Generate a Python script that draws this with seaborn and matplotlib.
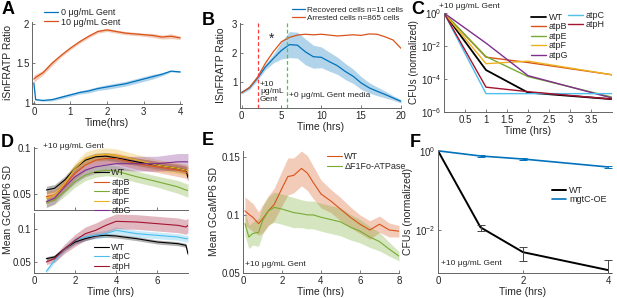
import numpy as np
import matplotlib
matplotlib.use("Agg")
import matplotlib.pyplot as plt
import seaborn as sns

# ---- panel A: iSnFRATP ratio, 0 vs 10 ug/mL gentamicin ----
a_time = [0, 0.05, 0.25, 0.5, 0.75, 1, 1.25, 1.5, 1.75, 2, 2.25, 2.5, 2.75, 3, 3.25, 3.5, 3.75, 4]
a_ctrl = [1.25, 1.04, 1.03, 1.04, 1.07, 1.1, 1.13, 1.15, 1.18, 1.2, 1.22, 1.24, 1.27, 1.3, 1.33, 1.36, 1.40, 1.39]
a_ctrl_err = [0.03, 0.01, 0.01, 0.015, 0.02, 0.02, 0.02, 0.025, 0.025, 0.03, 0.03, 0.03, 0.03, 0.03, 0.03, 0.02, 0.01, 0.01]
a_gent = [1.3, 1.32, 1.38, 1.5, 1.6, 1.69, 1.77, 1.84, 1.9, 1.92, 1.9, 1.88, 1.87, 1.86, 1.85, 1.83, 1.84, 1.82]
a_gent_err = [0.05, 0.04, 0.03, 0.03, 0.02, 0.02, 0.02, 0.02, 0.02, 0.02, 0.02, 0.02, 0.02, 0.02, 0.025, 0.025, 0.03, 0.02]

# ---- panel B: recovered vs arrested cells ----
b_time = list(range(0, 21))
b_rec = [0.64, 0.8, 1.14, 1.53, 1.82, 2.1, 2.3, 2.28, 2.05, 1.88, 1.86, 1.71, 1.57, 1.37, 1.2, 0.97, 0.8, 0.68, 0.57, 0.45, 0.33]
b_rec_err = [0.05, 0.06, 0.08, 0.1, 0.15, 0.3, 0.45, 0.45, 0.45, 0.4, 0.36, 0.33, 0.3, 0.28, 0.25, 0.22, 0.18, 0.15, 0.12, 0.08, 0.06]
b_arr = [0.62, 0.82, 1.17, 1.66, 2.06, 2.4, 2.55, 2.63, 2.66, 2.64, 2.66, 2.63, 2.6, 2.62, 2.64, 2.62, 2.67, 2.66, 2.57, 2.46, 2.17]
b_gent_on = 2.0
b_gent_off = 5.7

# ---- panel C: CFUs for ATP synthase mutants ----
c_time = [0, 1, 2, 4]
c_strains = ["WT", "atpB", "atpE", "atpF", "atpG", "atpC", "atpH"]
c_wt = [1, 3.5e-4, 1.5e-5, 6e-6]
c_atpB = [1, 2.1e-3, 1.0e-3, 1.8e-4]
c_atpE = [1, 2.3e-3, 1.4e-4, 8e-6]
c_atpF = [1, 8.5e-4, 1.2e-3, 1.8e-4]
c_atpG = [1, 1.5e-2, 1.6e-4, 7e-6]
c_atpC = [1, 1.3e-5, 1.3e-5, 1.3e-5]
c_atpH = [1, 3.2e-5, 1.7e-5, 6e-6]

# ---- panel D: GCaMP6 SD for mutants ----
d_time = [0.6, 1, 1.5, 2, 2.5, 3, 3.5, 4, 5, 6, 7, 7.4, 7.5]
d_wt = [0.0546, 0.0564, 0.0654, 0.0779, 0.0868, 0.0904, 0.0911, 0.0893, 0.085, 0.0814, 0.0779, 0.076, 0.068]
d_wt_err = [0.004, 0.004, 0.004, 0.004, 0.004, 0.004, 0.004, 0.004, 0.004, 0.004, 0.004, 0.004, 0.004]
d_atpB = [0.0475, 0.049, 0.06, 0.0725, 0.0814, 0.0868, 0.0886, 0.0886, 0.083, 0.0796, 0.076, 0.0743, 0.072]
d_atpB_err = [0.006, 0.006, 0.006, 0.006, 0.006, 0.006, 0.006, 0.006, 0.006, 0.006, 0.007, 0.007, 0.007]
d_atpE = [0.0404, 0.044, 0.053, 0.0636, 0.0707, 0.0743, 0.076, 0.075, 0.0689, 0.0636, 0.058, 0.0546, 0.054]
d_atpE_err = [0.005, 0.005, 0.005, 0.006, 0.006, 0.006, 0.006, 0.006, 0.006, 0.006, 0.007, 0.007, 0.007]
d_atpF = [0.0457, 0.049, 0.0618, 0.078, 0.0886, 0.092, 0.093, 0.092, 0.087, 0.0814, 0.078, 0.076, 0.075]
d_atpF_err = [0.005, 0.005, 0.006, 0.006, 0.007, 0.007, 0.007, 0.007, 0.006, 0.006, 0.006, 0.006, 0.006]
d_atpG = [0.042, 0.0457, 0.058, 0.0689, 0.076, 0.0796, 0.0814, 0.083, 0.083, 0.083, 0.085, 0.085, 0.085]
d_atpG_err = [0.006, 0.006, 0.006, 0.007, 0.007, 0.007, 0.007, 0.007, 0.008, 0.008, 0.009, 0.009, 0.009]
d2_wt = [0.055, 0.0575, 0.07, 0.08, 0.085, 0.089, 0.09, 0.089, 0.085, 0.08, 0.0775, 0.075, 0.062]
d2_wt_err = [0.003, 0.003, 0.003, 0.003, 0.003, 0.003, 0.003, 0.003, 0.003, 0.003, 0.003, 0.003, 0.003]
d2_atpC = [0.036, 0.0525, 0.07, 0.0825, 0.0875, 0.09, 0.0925, 0.0975, 0.0925, 0.09, 0.0875, 0.085, 0.085]
d2_atpC_err = [0.003, 0.004, 0.004, 0.005, 0.005, 0.005, 0.005, 0.005, 0.005, 0.005, 0.005, 0.005, 0.005]
d2_atpH = [0.05, 0.055, 0.07, 0.0825, 0.0925, 0.0975, 0.105, 0.111, 0.11, 0.1075, 0.105, 0.1025, 0.105]
d2_atpH_err = [0.004, 0.005, 0.007, 0.009, 0.01, 0.011, 0.011, 0.011, 0.011, 0.011, 0.011, 0.011, 0.011]

# ---- panel E: WT vs dF1Fo-ATPase ----
e_time = [0.1, 0.3, 0.5, 0.8, 1, 1.3, 1.6, 2, 2.3, 2.6, 3, 3.3, 3.6, 4, 4.5, 5, 5.5, 6, 6.5, 7, 7.5, 8]
e_wt = [0.1035, 0.1005, 0.098, 0.0925, 0.0965, 0.1035, 0.109, 0.123, 0.133, 0.134, 0.14, 0.136, 0.128, 0.118, 0.112, 0.105, 0.098, 0.092, 0.087, 0.092, 0.087, 0.086]
e_wt_err = [0.012, 0.012, 0.012, 0.01, 0.012, 0.013, 0.014, 0.015, 0.016, 0.015, 0.015, 0.015, 0.014, 0.012, 0.01, 0.01, 0.009, 0.008, 0.008, 0.007, 0.006, 0.005]
e_atp = [0.0925, 0.081, 0.084, 0.085, 0.095, 0.1035, 0.1065, 0.105, 0.1035, 0.102, 0.101, 0.1, 0.1, 0.098, 0.096, 0.094, 0.0895, 0.086, 0.081, 0.077, 0.0705, 0.0645]
e_atp_err = [0.01, 0.01, 0.01, 0.012, 0.012, 0.012, 0.013, 0.013, 0.013, 0.013, 0.012, 0.012, 0.012, 0.012, 0.012, 0.012, 0.011, 0.01, 0.009, 0.008, 0.006, 0.004]

# ---- panel F: CFUs WT vs mgtC-OE ----
f_time = [0, 1, 2, 4]
f_wt = [1, 1.15e-2, 2.7e-3, 9.5e-4]
f_wt_lo = [1, 9.5e-3, 1.65e-3, 8e-4]
f_wt_hi = [1, 1.35e-2, 3.6e-3, 1.7e-3]
f_mgtc = [1, 0.74, 0.62, 0.39]
f_mgtc_lo = [1, 0.71, 0.59, 0.36]
f_mgtc_hi = [1, 0.77, 0.65, 0.42]

BLUE = "#0072BD"
ORANGE = "#D95319"
YELLOW = "#EDB120"
PURPLE = "#7E2F8E"
GREEN = "#77AC30"
LBLUE = "#4DBEEE"
DRED = "#A2142F"
TXT = "#262626"

sns.set_theme(style="ticks")
plt.rcParams["font.family"] = ["Liberation Sans", "DejaVu Sans"]
plt.rcParams["axes.edgecolor"] = "#666666"
plt.rcParams["axes.linewidth"] = 0.7

W, H = 617, 298
fig = plt.figure(figsize=(W / 100, H / 100), dpi=100)


def box(left, top, right, bottom):
    # pixel box -> axes
    return fig.add_axes([left / W, 1 - bottom / H, (right - left) / W, (bottom - top) / H])


def style(ax):
    sns.despine(ax=ax)
    ax.tick_params(direction="in", length=2, width=0.6, labelsize=7, pad=2,
                   colors="#666666", labelcolor=TXT)
    ax.xaxis.label.set_color(TXT)
    ax.yaxis.label.set_color(TXT)


def band(ax, t, m, e, color, lw=0.9, label=None):
    t, m, e = np.array(t), np.array(m), np.array(e)
    ax.fill_between(t, m - e, m + e, color=color, alpha=0.3, lw=0)
    sns.lineplot(x=t, y=m, ax=ax, color=color, lw=lw, label=label, legend=False)


leg_kw = dict(frameon=False, fontsize=6.5, handlelength=1.6, handletextpad=0.3,
              labelspacing=0.05, borderpad=0, borderaxespad=0)

# A
ax = box(32, 22, 182, 104)
band(ax, a_time, a_ctrl, a_ctrl_err, BLUE, label="0 \u03bcg/mL Gent")
band(ax, a_time, a_gent, a_gent_err, ORANGE, label="10 \u03bcg/mL Gent")
ax.set_xlim(-0.05, 4.05)
ax.set_ylim(0.985, 2.02)
ax.set_xticks([0, 1, 2, 3, 4])
ax.set_yticks([1, 1.5, 2])
ax.set_yticklabels(["1", "1.5", "2"])
ax.set_xlabel("Time(hrs)", fontsize=7.5, labelpad=1)
ax.set_ylabel("iSnFRATP Ratio", fontsize=7.5, labelpad=2)
style(ax)
ax.legend(loc="upper left", bbox_to_anchor=(0.08, 1.17), **leg_kw)

# B
ax = box(240, 23, 401, 108)
band(ax, b_time, b_rec, b_rec_err, BLUE, label="Recovered cells n=11 cells")
sns.lineplot(x=b_time, y=b_arr, ax=ax, color=ORANGE, lw=0.9,
             label="Arrested cells n=865 cells", legend=False)
ax.axvline(b_gent_on, color="#FF3B3B", ls=(0, (3, 2)), lw=0.9)
ax.axvline(b_gent_off, color="#3BD13B", ls=(0, (3, 2)), lw=0.9)
ax.text(3.7, 2.5, "*", fontsize=10, ha="center", va="center", color=TXT)
ax.text(2.3, 1.05, "+10\n\u03bcg/mL\nGent", fontsize=6, ha="left", va="top",
        color=TXT, linespacing=1.1)
ax.text(6.0, 0.52, "+0 \u03bcg/mL Gent media", fontsize=6, ha="left", va="center", color=TXT)
ax.set_xlim(-0.2, 20)
ax.set_ylim(0.1, 3.05)
ax.set_xticks([0, 5, 10, 15, 20])
ax.set_yticks([1, 2, 3])
ax.set_xlabel("Time (hrs)", fontsize=7.5, labelpad=1)
ax.set_ylabel("ISnFRATP Ratio", fontsize=7.5, labelpad=4)
style(ax)
b_leg = dict(leg_kw, fontsize=5.9)
ax.legend(loc="upper left", bbox_to_anchor=(0.32, 1.2), **b_leg)

# C
ax = box(444, 13, 612, 112)
ax.set_yscale("log")
c_series = [c_wt, c_atpB, c_atpE, c_atpF, c_atpG, c_atpC, c_atpH]
c_colors = ["black", ORANGE, GREEN, YELLOW, PURPLE, LBLUE, DRED]
for name, vals, col in zip(c_strains, c_series, c_colors):
    sns.lineplot(x=c_time, y=vals, ax=ax, color=col, lw=1.3 if name == "WT" else 1.0,
                 label=name, legend=False)
ax.set_xlim(0, 4)
ax.set_ylim(1e-6, 1)
ax.set_xticks([0.5, 1, 1.5, 2, 2.5, 3, 3.5])
ax.set_xticklabels(["0.5", "1", "1.5", "2", "2.5", "3", "3.5"])
ax.set_yticks([1e-6, 1e-4, 1e-2, 1])
ax.yaxis.set_minor_locator(matplotlib.ticker.NullLocator())
ax.set_xlabel("Time (hrs)", fontsize=7.5, labelpad=1)
ax.set_ylabel("CFUs (normalized)", fontsize=7.2, labelpad=1)
ax.text(-0.03, 1.07, "+10 \u03bcg/mL Gent", transform=ax.transAxes, fontsize=6,
        ha="left", va="center", color=TXT)
style(ax)
h, l = ax.get_legend_handles_labels()
leg1 = ax.legend(h[:5], l[:5], loc="upper left", bbox_to_anchor=(0.52, 1.0), **leg_kw)
ax.add_artist(leg1)
ax.legend(h[5:], l[5:], loc="upper left", bbox_to_anchor=(0.74, 1.02), **leg_kw)

# D top
ax = box(34, 147, 188, 210)
for vals, err, col, name in [(d_wt, d_wt_err, "black", "WT"), (d_atpB, d_atpB_err, ORANGE, "atpB"),
                             (d_atpE, d_atpE_err, GREEN, "atpE"), (d_atpF, d_atpF_err, YELLOW, "atpF"),
                             (d_atpG, d_atpG_err, PURPLE, "atpG")]:
    band(ax, d_time, vals, err, col, lw=0.8, label=name)
ax.set_xlim(0, 7.5)
ax.set_ylim(0.033, 0.101)
ax.set_xticks([0, 2, 4, 6])
ax.set_xticklabels([])
ax.set_yticks([0.05, 0.1])
ax.set_yticklabels(["0.05", "0.1"])
ax.text(0.06, 1.0, "+10 \u03bcg/mL Gent", transform=ax.transAxes, fontsize=6,
        ha="left", va="center", color=TXT)
style(ax)
ax.legend(loc="upper left", bbox_to_anchor=(0.39, 0.66), **leg_kw)

# D bottom
ax = box(34, 213, 188, 273)
for vals, err, col, name in [(d2_wt, d2_wt_err, "black", "WT"), (d2_atpC, d2_atpC_err, LBLUE, "atpC"),
                             (d2_atpH, d2_atpH_err, DRED, "atpH")]:
    band(ax, d_time, vals, err, col, lw=0.8, label=name)
ax.set_xlim(0, 7.5)
ax.set_ylim(0.0335, 0.1235)
ax.set_xticks([0, 2, 4, 6])
ax.set_yticks([0.05, 0.1])
ax.set_yticklabels(["0.05", "0.1"])
ax.set_xlabel("Time (hrs)", fontsize=7.5, labelpad=1)
style(ax)
ax.legend(loc="upper left", bbox_to_anchor=(0.39, 0.5), **leg_kw)
fig.text(8 / W, 1 - 210 / H, "Mean GCaMP6 SD", rotation=90, fontsize=7.5,
         ha="center", va="center", color=TXT)

# E
ax = box(243, 151, 399, 273)
band(ax, e_time, e_wt, e_wt_err, ORANGE, lw=0.8, label="WT")
band(ax, e_time, e_atp, e_atp_err, GREEN, lw=0.8, label="\u0394F1Fo-ATPase")
ax.set_xlim(0, 8)
ax.set_ylim(0.05, 0.155)
ax.set_xticks([0, 2, 4, 6, 8])
ax.set_yticks([0.05, 0.1, 0.15])
ax.set_yticklabels(["0.05", "0.1", "0.15"])
ax.set_xlabel("Time (hrs)", fontsize=7.5, labelpad=1)
ax.set_ylabel("Mean GCaMP6 SD", fontsize=7.5, labelpad=2)
ax.text(0.015, 0.07, "+10 \u03bcg/mL Gent", transform=ax.transAxes, fontsize=6,
        ha="left", va="center", color=TXT)
style(ax)
ax.legend(loc="upper left", bbox_to_anchor=(0.54, 0.99), **leg_kw)

# F
ax = box(438, 150, 608, 273)
ax.set_yscale("log")
sns.lineplot(x=f_time, y=f_wt, ax=ax, color="black", lw=1.4, label="WT", legend=False)
sns.lineplot(x=f_time, y=f_mgtc, ax=ax, color=BLUE, lw=1.2, label="mgtC-OE", legend=False)
for m, lo, hi, col in [(f_wt, f_wt_lo, f_wt_hi, "#444444"), (f_mgtc, f_mgtc_lo, f_mgtc_hi, BLUE)]:
    m, lo, hi = np.array(m), np.array(lo), np.array(hi)
    ax.errorbar(f_time[1:], m[1:], yerr=[m[1:] - lo[1:], hi[1:] - m[1:]], fmt="none",
                ecolor=col, elinewidth=0.7, capsize=3, capthick=0.7, clip_on=False)
ax.set_xlim(0, 4)
ax.set_ylim(8e-4, 1.05)
ax.set_xticks([0, 2, 4])
ax.set_yticks([1e-2, 1])
ax.yaxis.set_minor_locator(matplotlib.ticker.NullLocator())
ax.set_xlabel("Time (hrs)", fontsize=7.5, labelpad=1)
ax.set_ylabel("CFUs (normalized)", fontsize=7.5, labelpad=1)
ax.text(0.015, 0.08, "+10 \u03bcg/mL Gent", transform=ax.transAxes, fontsize=6,
        ha="left", va="center", color=TXT)
style(ax)
ax.legend(loc="upper left", bbox_to_anchor=(0.67, 0.71), **leg_kw)

# panel letters
for letter, x, y in [("A", 2, 1), ("B", 202, 12), ("C", 411, 1),
                     ("D", 1, 134), ("E", 202, 132), ("F", 410, 134)]:
    fig.text(x / W, 1 - y / H, letter, fontsize=13, fontweight="bold",
             ha="left", va="top", color="black")

fig.savefig("out.png", dpi=100)
